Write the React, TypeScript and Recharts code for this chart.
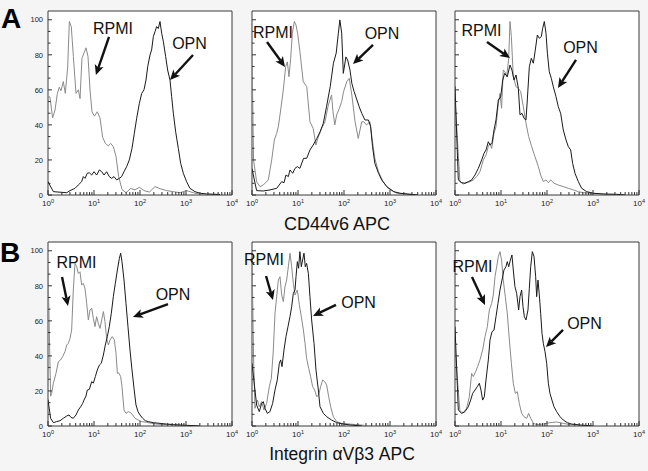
import React from 'react';
import { LineChart, Line, XAxis, YAxis, ReferenceArea, ReferenceLine, ReferenceDot } from 'recharts';

type Pair = [number, number];

const FONT = '"Liberation Sans", Arial, Helvetica, sans-serif';

// axis ticks (log x, linear y)
const xMajor = [1, 10, 100, 1000, 10000];
const xExponents = ['0', '1', '2', '3', '4'];
const xTicks = [
  1, 2, 3, 4, 5, 6, 7, 8, 9, 10, 20, 30, 40, 50, 60, 70, 80, 90, 100, 200, 300, 400, 500, 600, 700, 800, 900,
  1000, 2000, 3000, 4000, 5000, 6000, 7000, 8000, 9000, 10000,
];
const yMajor = [0, 20, 40, 60, 80, 100];
const yTicks = [0, 6.67, 13.33, 20, 26.67, 33.33, 40, 46.67, 53.33, 60, 66.67, 73.33, 80, 86.67, 93.33, 100];

const rowLetters = ['A', 'B'];
const axisTitles = ['CD44v6 APC', 'Integrin \u03b1V\u03b23 APC'];
const seriesNames = ['RPMI', 'OPN'];

// histograms: [intensity, % of max]
const a1Rpmi: Pair[] = [[1.0,56],[1.1,56],[1.26,44],[1.42,48.5],[1.6,58],[1.76,61.5],[1.92,59.5],[2.15,64.7],[2.38,58],[2.68,73],[2.91,99],[3.21,96],[3.56,79],[4.06,58],[4.56,60],[4.97,55],[5.48,78],[6.06,81],[6.7,84],[7.41,79],[8.19,60],[9.05,47.5],[10.2,45],[11.8,47.5],[13.5,44],[15.4,33],[17.6,29.5],[20.5,28],[23,29.5],[26.3,27.6],[30.1,22],[34.4,10.5],[40.6,3.2],[49.6,1.3],[62.7,3.8],[77.8,2.9],[96.8,4.4],[122,2.5],[160,1.7],[212,4.8],[272,3.6],[380,2.5],[531,1.9],[741,1.3],[1030,2.5],[1443,1.3],[2014,0.4],[4000,0]];
const a1Opn: Pair[] = [[1.0,7.6],[1.31,1.9],[2.55,1.3],[3.01,2.5],[3.86,3.8],[4.56,5.7],[5.39,7.6],[5.86,10.5],[6.37,9.5],[7.16,12.4],[7.92,12.7],[8.9,11.4],[10,13.3],[11.4,11.4],[13.1,14.3],[14.7,13.3],[16.5,11.4],[18.8,13.3],[21.5,10.5],[24.2,9.5],[27.2,10.5],[31.1,8.6],[35.6,9.5],[39.9,10.5],[44.9,13.3],[51.3,16.2],[58.6,20],[67,26.6],[75.3,35.2],[84.7,43.8],[96.8,52.3],[109,58],[122,60],[135,65.6],[147,73.2],[165,79.9],[179,82.8],[195,90.4],[212,93.2],[230,96.1],[250,95],[272,99],[296,92.3],[322,87.5],[361,79],[399,71.3],[449,65.6],[488,56.1],[531,46.6],[596,36.1],[681,26.6],[766,18],[875,12.4],[1030,7.6],[1220,3.8],[1570,1.9],[2010,1],[2810,0.6],[5480,0.3]];

const a2Rpmi: Pair[] = [[1.0,83],[1.08,20],[1.26,7.6],[1.49,4.8],[1.76,5.7],[2.26,8.6],[2.68,20],[3.06,31.4],[3.44,35.2],[3.74,39],[4.2,48.5],[4.8,60],[5.39,73.2],[5.86,76],[6.37,67.5],[6.93,78],[7.53,92.3],[8.32,99],[9.05,97],[9.84,92],[11,82],[13,64.7],[15.5,61.8],[18.2,41.8],[21.4,38],[24.5,28.5],[26.9,32.3],[32.7,38],[38.6,41.8],[45.7,51.4],[53.7,57.1],[57.5,47.6],[63.1,40],[69.2,45.7],[79.4,49.5],[89.1,53.3],[97.7,59],[115,64.7],[130,66.6],[148,57.1],[174,41.8],[204,32.3],[243,41.8],[269,41.8],[309,40],[367,41.8],[398,34.2],[468,20.9],[562,13.3],[708,7.6],[912,3.8],[1410,1],[2720,0.5],[4000,0]];
const a2Opn: Pair[] = [[1.0,15],[1.26,2.5],[1.76,2.3],[2.46,2.9],[3.44,3.8],[4.42,7.6],[4.96,7],[5.48,11.4],[6.17,10.5],[6.7,14.3],[7.66,12.4],[8.61,15.2],[9.68,16.2],[11,15.2],[13.2,20.9],[15.5,21],[18.2,25.7],[21.4,28.5],[25.7,32.3],[30.2,36.1],[35.5,40.9],[41.7,50.4],[50.1,61.8],[58.9,75.2],[67.6,80.9],[75.3,92.3],[81.3,99.9],[89.1,92.3],[96.6,69.4],[110,78.8],[120,77],[135,71.3],[148,63.7],[166,59],[191,54.2],[214,50.4],[243,46.6],[285,42.8],[339,42.8],[380,39],[417,27.6],[468,18.1],[562,12.4],[661,8.6],[851,4.8],[1200,1.9],[1660,1],[2720,0.4],[4000,0]];

const a3Rpmi: Pair[] = [[1.0,55],[1.28,7.6],[1.52,6.3],[1.79,7],[2.12,7.6],[2.5,8.6],[2.96,10.5],[3.49,13.3],[4.13,20],[4.72,22.8],[5.3,27.6],[5.77,29.5],[6.27,26.6],[7.05,35.2],[7.78,39],[8.75,52.3],[9.51,58],[10.3,49.5],[11.2,71.3],[12.2,70.4],[13.3,67.5],[14.7,78],[15.7,99],[16.8,90.4],[18.5,67.5],[21.2,61.8],[23.8,60.9],[26.8,59],[30.6,50.4],[34.9,41],[39.9,33.3],[46.5,27.6],[54.8,21.9],[64.9,16.2],[72.8,11.4],[83.2,7.6],[95.1,8.6],[107,7],[120,8.6],[142,6.7],[176,5.7],[226,4.8],[291,3.8],[373,2.9],[480,1.9],[617,1.3],[861,1],[1200,0.6],[2000,0.3],[4000,0]];
const a3Opn: Pair[] = [[1.0,62],[1.18,8.6],[1.4,7],[1.65,6.7],[1.95,7.6],[2.3,8.6],[2.72,11.4],[3.21,15.2],[3.8,20],[4.27,23.8],[4.72,25.7],[5.3,30.4],[5.77,28.5],[6.37,29.5],[7.05,37.1],[7.78,42.8],[8.75,54.2],[9.84,56],[10.9,65.6],[12,69.4],[13.7,67.5],[15.7,74.2],[17.3,71.3],[19.2,65.6],[21.2,68.5],[23.8,60.9],[25.9,45.7],[28.6,46.6],[31.6,43.8],[34.9,42.8],[37.3,54.2],[41.3,73.2],[45.6,78],[50.5,75.2],[55.7,82.8],[61.7,91.3],[68.1,89.4],[75.3,90.4],[80.5,95.1],[87.5,99],[95.1,92.3],[102,80.9],[112,70.4],[124,66.6],[137,61.8],[157,56.1],[176,50.4],[198,46.6],[226,37.1],[259,31.4],[291,27.6],[327,25.7],[361,18],[406,12.4],[480,7.6],[567,3.8],[728,1.9],[1020,1],[1680,0.6],[3270,0.4],[5000,0]];

const b1Rpmi: Pair[] = [[1.0,91],[1.14,17],[1.2,18.6],[1.31,24.4],[1.49,30],[1.68,36.7],[1.88,37.7],[2.08,39.6],[2.34,42.4],[2.55,46.2],[2.77,47.2],[3.01,50],[3.27,54.8],[3.55,77.6],[3.86,92.8],[4.2,91],[4.56,87],[4.96,88],[5.39,80.5],[5.86,81.4],[6.37,78.6],[6.93,70],[7.53,60.5],[8.19,66.2],[8.9,67.2],[9.68,61.5],[10.5,56.7],[11.4,62.4],[12.4,58.6],[13.5,55.7],[14.7,60.5],[16,65.3],[17.3,59.6],[18.8,50],[20.5,46.2],[22.3,49.1],[25,51],[27.7,49.1],[30.1,41.5],[32.2,30],[34.4,30.4],[38,28.2],[40.6,22.5],[44.9,9.1],[49.6,7.2],[55.7,8.2],[62.7,7.6],[69.3,6.3],[77.8,4.4],[92,3.4],[109,2.5],[140,2.1],[179,1.5],[250,1],[380,0.8],[531,0.4],[1000,0]];
const b1Opn: Pair[] = [[1.0,15],[1.14,4.4],[1.31,1.9],[1.54,2.5],[1.82,3],[2.15,4.4],[2.55,5.7],[2.86,6.3],[3.16,4.9],[3.55,4.4],[4.06,6.3],[4.56,9.1],[5.13,11],[5.67,12.9],[6.06,14.8],[6.7,17.1],[7.16,20.5],[7.92,20.9],[8.9,25.3],[9.68,24.5],[10.7,28.2],[11.8,32],[13.1,34.8],[14.4,35.8],[16,40.5],[17.6,46.2],[19.5,51],[21.5,56.7],[23.8,64.3],[26.3,73.8],[29.1,81.4],[32.2,89],[35.6,95.7],[38,98.6],[40.6,93.8],[44.9,83.3],[49.6,70],[54.8,56.7],[60.6,43.4],[67,32],[74.1,21.5],[81.8,12],[90.5,8.2],[100,6.3],[114,4.4],[131,3],[152,2.5],[195,1.9],[272,1.5],[380,1.1],[531,0.8],[741,0.6],[1030,0.4],[2000,0]];

const b2Rpmi: Pair[] = [[1.0,97.6],[1.08,40],[1.16,10.1],[1.31,14.8],[1.44,11],[1.62,13.9],[1.82,9.1],[2.08,12.9],[2.38,22.5],[2.63,27.2],[2.91,43.4],[3.16,64.3],[3.44,73.8],[3.74,83.3],[4.06,85.2],[4.42,74.8],[4.8,71],[5.21,79.5],[5.67,83.3],[6.17,90.9],[6.7,98.6],[7.28,90.9],[7.92,81.4],[8.61,74.8],[9.68,77.6],[10.7,69.1],[11.8,62.4],[13.1,54.8],[14.2,47.2],[15.4,38.6],[17.1,32.9],[18.8,28.2],[20.8,22.5],[23,20.5],[25.5,16.7],[28.1,17.7],[31.1,22.5],[34.4,26.3],[38,25.3],[42,23.4],[46.5,16.7],[51.3,11],[58.6,5.3],[69.3,2.5],[88.9,1.5],[135,1.1],[223,0.6],[400,0]];
const b2Opn: Pair[] = [[1.0,35.8],[1.26,12],[1.44,8.2],[1.62,12.9],[1.76,13.9],[1.92,10.1],[2.15,7.2],[2.46,8.2],[2.81,12.9],[3.16,20.5],[3.55,26.3],[3.93,35.8],[4.2,37.7],[4.49,33.9],[4.96,43.4],[5.48,51],[6.06,56.7],[6.7,62.4],[7.28,68.1],[7.92,75.7],[8.61,77.6],[9.05,85.2],[9.68,93.8],[10.3,90],[11,99.5],[11.8,90.9],[12.6,94.7],[13.5,98.6],[14.4,90.9],[15.4,92.8],[16.8,87.1],[18.2,73.8],[19.8,60.5],[22.3,47.2],[24.6,32],[27.7,20.5],[30.1,11],[35.6,7.2],[42,5.3],[53.9,3.4],[69.3,1.9],[96.8,1.1],[135,0.6],[250,0]];

const b3Rpmi: Pair[] = [[1.0,45],[1.28,8.2],[1.52,7.6],[1.79,10.1],[2.05,16.7],[2.3,30],[2.5,28.2],[2.81,31],[3.11,33.9],[3.49,37.7],[3.99,43.4],[4.49,51],[5.05,56.7],[5.57,66.2],[6.27,70],[6.81,74.8],[7.41,85.2],[8.05,90.9],[8.75,96.7],[9.51,99.5],[10.3,94.7],[11.2,83.3],[12.4,73.8],[13.7,64.3],[15.2,49.1],[16.8,35.8],[18.5,24.4],[20.5,18.6],[22.6,19.6],[25,12.9],[28.1,7.2],[31.6,5.3],[36.1,4.4],[39.9,7.2],[44.2,4.4],[50.5,1.5],[59.6,0.8],[83.2,1.1],[116,1.9],[162,2.3],[226,1.5],[316,0.8],[442,0.4],[800,0]];
const b3Opn: Pair[] = [[1.0,56.7],[1.18,9.1],[1.4,7.2],[1.65,8.2],[1.95,11],[2.19,14.8],[2.42,18.6],[2.72,20.5],[3.06,22.5],[3.38,24.4],[3.67,20.5],[3.99,14.8],[4.34,16.7],[4.72,26.3],[5.3,37.7],[5.77,49.1],[6.37,53.8],[7.05,54.8],[7.78,62.4],[8.61,70],[9.51,77.6],[10.5,83.3],[11.6,89],[12.8,90.9],[13.7,93.8],[14.7,90.9],[16,94.7],[17.3,97.6],[18.5,89],[20.1,79.5],[21.9,75.7],[24.2,66.2],[25.9,73.8],[28.1,77.6],[30.1,68.1],[32.2,62.4],[34.9,60.5],[38.6,66.2],[41.3,78.6],[44.2,90.9],[48,99.5],[52.2,96.7],[56.7,85.2],[59.6,73.8],[63.7,83.3],[68.1,74.8],[72.8,64.3],[77.8,52.9],[83.2,47.2],[90.5,42.4],[98.4,35.8],[107,24.4],[116,18.6],[128,14.8],[142,11],[162,8.2],[192,5.3],[226,3.4],[277,1.9],[344,1.1],[521,0.6],[1000,0]];

// annotation anchors in data units: [label], [arrow tail, arrow tip]
const rpmiLabels: Pair[] = [[25.9, 91.9], [2.86, 89.6], [3.77, 90.8], [4.17, 90.2], [1.82, 91.9], [2.4, 87.9]];
const opnLabels: Pair[] = [[1190, 83.3], [670, 89.0], [535, 81.1], [522, 71.9], [207, 67.4], [653, 55.4]];
const rpmiArrows: Pair[][] = [
  [[21.2, 90.2], [11.0, 68.5]],
  [[2.12, 87.3], [5.22, 73.1]],
  [[4.96, 87.3], [15.7, 78.2]],
  [[2.02, 85.0], [2.72, 68.5]],
  [[2.02, 85.6], [2.86, 71.9]],
  [[2.34, 85.0], [4.49, 69.1]],
];
const opnArrows: Pair[][] = [
  [[1419, 79.9], [449, 65.6]],
  [[427, 85.6], [157, 74.8]],
  [[427, 77.1], [173, 61.1]],
  [[406, 69.6], [70.4, 62.2]],
  [[67.0, 69.1], [21.2, 62.8]],
  [[223, 54.8], [95, 45.1]],
];

const rpmiSeries = [a1Rpmi, a2Rpmi, a3Rpmi, b1Rpmi, b2Rpmi, b3Rpmi];
const opnSeries = [a1Opn, a2Opn, a3Opn, b1Opn, b2Opn, b3Opn];

const PLOT = 184;
const Y_W = 30;
const X_H = 22;
const M_TOP = 4;
const M_RIGHT = 14;
const colLefts = [48, 252, 455];
const rowTops = [11, 242];

const toPts = (arr: Pair[]) => arr.map(([x, y]) => ({ x, y }));

const renderXTick = (props: any) => {
  const { x, y, payload } = props;
  const i = xMajor.indexOf(payload.value);
  const major = i >= 0;
  return (
    <g>
      <line x1={x} y1={y} x2={x} y2={y - (major ? 5 : 3)} stroke="#333" strokeWidth={1} />
      {major && (
        <text x={x} y={y + 11} textAnchor="middle" fontSize={8} fontFamily={FONT} fill="#222">
          10
          <tspan dy={-3.5} fontSize={5.5}>
            {xExponents[i]}
          </tspan>
        </text>
      )}
    </g>
  );
};

const makeYTick = (showLabel: boolean) => (props: any) => {
  const { x, y, payload } = props;
  const major = yMajor.includes(payload.value);
  return (
    <g>
      <line x1={x} y1={y} x2={x + (major ? 4 : 2.5)} y2={y} stroke="#333" strokeWidth={1} />
      {showLabel && major && (
        <text x={x - 5} y={y + 2.7} textAnchor="end" fontSize={7.5} fontFamily={FONT} fill="#222">
          {payload.value}
        </text>
      )}
    </g>
  );
};

const ArrowShape = (p: any) => {
  const { x1, y1, x2, y2 } = p;
  const dx = x2 - x1;
  const dy = y2 - y1;
  const len = Math.hypot(dx, dy) || 1;
  const ux = dx / len;
  const uy = dy / len;
  const hl = 10;
  const hw = 4.6;
  const bx = x2 - ux * hl;
  const by = y2 - uy * hl;
  const nx = x2 - ux * (hl - 2.5);
  const ny = y2 - uy * (hl - 2.5);
  return (
    <g>
      <line x1={x1} y1={y1} x2={nx} y2={ny} stroke="#111" strokeWidth={2.4} />
      <polygon
        points={`${x2},${y2} ${bx - uy * hw},${by + ux * hw} ${nx},${ny} ${bx + uy * hw},${by - ux * hw}`}
        fill="#111"
      />
    </g>
  );
};

const makeLabel = (text: string) => (p: any) => (
  <text x={p.cx} y={p.cy} textAnchor="middle" fontSize={16} fontFamily={FONT} fill="#111">
    {text}
  </text>
);

function Panel({ index }: { index: number }) {
  const row = Math.floor(index / 3);
  const col = index % 3;
  const left = colLefts[col];
  const top = rowTops[row];
  const rpmi = toPts(rpmiSeries[index]);
  const opn = toPts(opnSeries[index]);
  const [rArrowA, rArrowB] = rpmiArrows[index];
  const [oArrowA, oArrowB] = opnArrows[index];
  return (
    <>
      <div style={{ position: 'absolute', left, top, width: PLOT, height: PLOT, background: '#fff' }} />
      <div style={{ position: 'absolute', left: left - Y_W, top: top - M_TOP }}>
        <LineChart
          width={Y_W + PLOT + M_RIGHT}
          height={M_TOP + PLOT + X_H}
          margin={{ top: M_TOP, right: M_RIGHT, bottom: 0, left: 0 }}
        >
          <XAxis
            dataKey="x"
            type="number"
            scale="log"
            domain={[1, 10000]}
            allowDataOverflow
            ticks={xTicks}
            interval={0}
            tick={renderXTick}
            tickLine={false}
            axisLine={false}
            tickSize={0}
            tickMargin={0}
            height={X_H}
          />
          <YAxis
            type="number"
            domain={[0, 105]}
            allowDataOverflow
            ticks={yTicks}
            interval={0}
            tick={makeYTick(col === 0)}
            tickLine={false}
            axisLine={false}
            tickSize={0}
            tickMargin={0}
            width={Y_W}
          />
          <ReferenceArea x1={1} x2={10000} y1={0} y2={105} fill="none" fillOpacity={0} stroke="#3a3a3a" strokeWidth={1} ifOverflow="visible" />
          <Line data={rpmi} dataKey="y" name={seriesNames[0]} stroke="#8a8a8a" strokeWidth={1} dot={false} isAnimationActive={false} />
          <Line data={opn} dataKey="y" name={seriesNames[1]} stroke="#1a1a1a" strokeWidth={1} dot={false} isAnimationActive={false} />
          <ReferenceLine
            segment={[{ x: rArrowA[0], y: rArrowA[1] }, { x: rArrowB[0], y: rArrowB[1] }]}
            shape={ArrowShape}
            ifOverflow="visible"
          />
          <ReferenceLine
            segment={[{ x: oArrowA[0], y: oArrowA[1] }, { x: oArrowB[0], y: oArrowB[1] }]}
            shape={ArrowShape}
            ifOverflow="visible"
          />
          <ReferenceDot x={rpmiLabels[index][0]} y={rpmiLabels[index][1]} r={0} shape={makeLabel(seriesNames[0])} ifOverflow="visible" />
          <ReferenceDot x={opnLabels[index][0]} y={opnLabels[index][1]} r={0} shape={makeLabel(seriesNames[1])} ifOverflow="visible" />
        </LineChart>
      </div>
    </>
  );
}

export default function App() {
  return (
    <div
      style={{
        position: 'absolute',
        left: 0,
        top: 0,
        width: 648,
        height: 471,
        background: '#f5f5f5',
        overflow: 'hidden',
        fontFamily: FONT,
      }}
    >
      {[0, 1, 2, 3, 4, 5].map((i) => (
        <Panel key={i} index={i} />
      ))}
      <svg width={648} height={471} style={{ position: 'absolute', left: 0, top: 0, pointerEvents: 'none' }}>
        <text x={1} y={28} fontSize={28} fontWeight="bold" fontFamily={FONT} fill="#000">
          {rowLetters[0]}
        </text>
        <text x={0} y={262} fontSize={28} fontWeight="bold" fontFamily={FONT} fill="#000">
          {rowLetters[1]}
        </text>
        <text x={337} y={230} fontSize={18} textAnchor="middle" fontFamily={FONT} fill="#111">
          {axisTitles[0]}
        </text>
        <text x={342} y={460} fontSize={17.5} textAnchor="middle" fontFamily={FONT} fill="#111">
          {axisTitles[1]}
        </text>
      </svg>
    </div>
  );
}
